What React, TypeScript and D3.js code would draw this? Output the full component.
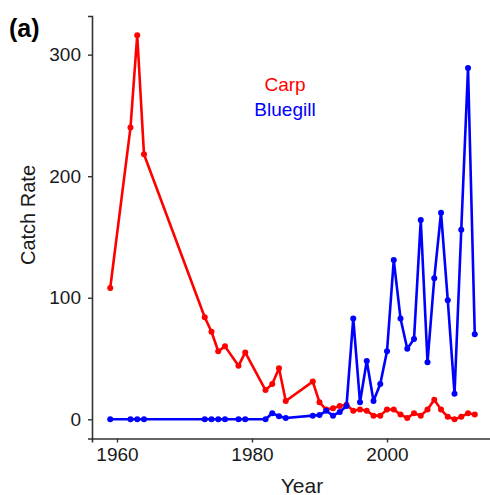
import { useEffect, useRef } from "react";
import * as d3 from "d3";

const years = [
  1959, 1962, 1963, 1964, 1973, 1974, 1975, 1976, 1978, 1979, 1982, 1983, 1984, 1985, 1989,
  1990, 1991, 1992, 1993, 1994, 1995, 1996, 1997, 1998, 1999, 2000, 2001, 2002, 2003, 2004,
  2005, 2006, 2007, 2008, 2009, 2010, 2011, 2012, 2013,
];
const carp = [
  108, 240, 316, 218, 84, 72, 56, 60, 44, 55, 24, 29, 42, 15, 31,
  14, 8, 9, 11, 12, 7, 8, 7, 3, 3, 8, 8, 4, 1, 5,
  3, 8, 16, 8, 2, 0, 2, 5, 4,
];
const bluegill = [
  0, 0, 0, 0, 0, 0, 0, 0, 0, 0, 0, 5, 2.5, 1, 3,
  3.5, 7, 3, 6, 11, 83, 14, 48, 15, 29, 56, 131, 83, 58, 66,
  164, 47, 116, 170, 98, 21, 156, 289, 70,
];
const xTicks = [1960, 1980, 2000];
const yTicks = [0, 100, 200, 300];

const FONT = "Liberation Sans, Arial, sans-serif";

export default function App() {
  const ref = useRef<SVGSVGElement>(null);

  useEffect(() => {
    if (!ref.current) return;
    const svg = d3.select(ref.current);
    svg.selectAll("*").remove();

    const left = 92, right = 493, top = 16, bottom = 438.5;

    // ggplot style 5% expansion on both axes
    const [x0, x1] = d3.extent(years) as [number, number];
    const xPad = (x1 - x0) * 0.05;
    const x = d3.scaleLinear().domain([x0 - xPad, x1 + xPad]).range([left, right]);
    const yMax = d3.max([...carp, ...bluegill])!;
    const y = d3.scaleLinear().domain([-yMax * 0.05, yMax * 1.05]).range([bottom, top]);

    const series = [
      { name: "Carp", values: carp, color: "#ff0000" },
      { name: "Bluegill", values: bluegill, color: "#0000ff" },
    ];

    const line = d3.line<number>()
      .x((_, i) => x(years[i]))
      .y((d) => y(d));

    series.forEach((s) => {
      const g = svg.append("g");
      g.append("path").attr("d", line(s.values)!)
        .attr("fill", "none").attr("stroke", s.color)
        .attr("stroke-width", 2.6).attr("stroke-linejoin", "round");
      g.selectAll("circle").data(s.values).join("circle")
        .attr("cx", (_, i) => x(years[i])).attr("cy", (d) => y(d))
        .attr("r", 3).attr("fill", s.color);
    });

    // axes
    const xAxis = svg.append("g").attr("transform", `translate(0,${bottom})`)
      .call(d3.axisBottom(x).tickValues(xTicks).tickFormat(d3.format("d")).tickSize(4).tickPadding(5));
    const yAxis = svg.append("g").attr("transform", `translate(${left},0)`)
      .call(d3.axisLeft(y).tickValues(yTicks).tickSize(4).tickPadding(7));
    [xAxis, yAxis].forEach((a) => {
      a.select(".domain").attr("stroke", "#333").attr("stroke-width", 1.6);
      a.selectAll(".tick line").attr("stroke", "#333").attr("stroke-width", 1.4);
      a.selectAll(".tick text").attr("fill", "#1a1a1a")
        .style("font-family", FONT).style("font-size", "19px");
    });

    svg.append("text").attr("x", 302).attr("y", 493).attr("text-anchor", "middle")
      .style("font-family", FONT).style("font-size", "21px").attr("fill", "#1a1a1a")
      .text("Year");
    svg.append("text").attr("transform", `translate(35,215) rotate(-90)`)
      .attr("text-anchor", "middle")
      .style("font-family", FONT).style("font-size", "20px").attr("fill", "#1a1a1a")
      .text("Catch Rate");

    svg.append("text").attr("x", 9).attr("y", 37)
      .style("font-family", FONT).style("font-size", "25px").style("font-weight", "bold")
      .attr("fill", "#000").text("(a)");

    // legend labels
    series.forEach((s, i) => {
      svg.append("text").attr("x", 285).attr("y", 91 + i * 25).attr("text-anchor", "middle")
        .style("font-family", FONT).style("font-size", "19px").attr("fill", s.color)
        .text(s.name);
    });
  }, []);

  return (
    <div style={{ position: "absolute", left: 0, top: 0, width: 490, height: 495, overflow: "hidden", background: "#fff" }}>
      <svg ref={ref} width={490} height={495} />
    </div>
  );
}
